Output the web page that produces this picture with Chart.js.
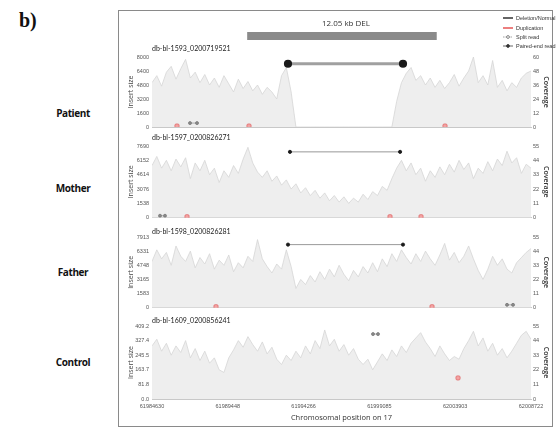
<!DOCTYPE html>
<html>
<head>
<meta charset="utf-8">
<script src="https://cdn.jsdelivr.net/npm/chart.js@4.4.1/dist/chart.umd.min.js"></script>
<style>
  body { margin: 0; width: 560px; height: 429px; background: #fff; position: relative; overflow: hidden; font-family: 'Open Sans', sans-serif; }
  canvas { position: absolute; }
  .frame { position: absolute; left: 118px; top: 10px; width: 433px; height: 415px; border: 1.5px solid #8a8a8a; }
  .tag { position: absolute; left: 42px; width: 62px; text-align: center; font-size: 10px; font-weight: 700; color: #111; letter-spacing: -0.4px; line-height: 14px; }
  .b { position: absolute; left: 19px; top: 9px; font-family: 'Liberation Serif', serif; font-size: 20px; font-weight: 700; color: #111; }
</style>
</head>
<body>
<div class="b">b)</div>
<div class="tag" style="top:106px">Patient</div>
<div class="tag" style="top:181px">Mother</div>
<div class="tag" style="top:265px">Father</div>
<div class="tag" style="top:355px">Control</div>
<div class="frame"></div>
<canvas id="p1" width="430" height="92" style="left:120px;top:42px"></canvas>
<canvas id="p2" width="430" height="93" style="left:120px;top:131px"></canvas>
<canvas id="p3" width="430" height="92" style="left:120px;top:222px"></canvas>
<canvas id="p4" width="430" height="114" style="left:120px;top:311px"></canvas>
<canvas id="head" width="438" height="44" style="left:120px;top:10px"></canvas>
<script>
// chromosome 17 window
const xStart = 61984630, xEnd = 62008722;
const xTicks = [61984630, 61989448, 61994266, 61999085, 62003903, 62008722];
const delStart = 61990680, delEnd = 62002730;
const delLabel = '12.05 kb DEL';

const legendLabels = ['Deletion/Normal', 'Duplication', 'Split read', 'Paired-end read'];

// coverage, 80 evenly spaced samples per sample
const covPatient = [
  38, 44, 35, 47, 52, 41, 50, 58, 42, 47, 38, 45, 36, 42, 34, 44, 37, 30, 41, 33,
  39, 31, 36, 28, 34, 30, 24, 44, 51, 30, 0, 0, 0, 0, 0, 0, 0, 0, 0, 0,
  0, 0, 0, 0, 0, 0, 0, 0, 0, 0, 0, 22, 38, 46, 51, 40, 44, 36, 42, 34,
  40, 33, 38, 45, 35, 42, 48, 60, 38, 44, 36, 57, 34, 40, 31, 38, 34, 42, 46, 48
];
const covMother = [
  40, 47, 38, 44, 36, 45, 39, 46, 30, 42, 36, 44, 33, 38, 27, 36, 31, 40, 34, 45,
  54, 42, 35, 31, 36, 28, 32, 25, 29, 22, 26, 19, 23, 17, 21, 15, 19, 13, 17, 12,
  16, 11, 15, 12, 18, 14, 20, 17, 24, 21, 30, 38, 44, 36, 42, 33, 38, 28, 36, 31,
  39, 33, 41, 35, 44, 37, 42, 30, 38, 34, 43, 36, 45, 40, 51, 42, 46, 34, 41, 38
];
const covFather = [
  36, 45, 38, 43, 33, 48, 40, 36, 44, 31, 39, 34, 42, 30, 37, 33, 41, 28, 35, 31,
  40, 36, 53, 38, 32, 27, 34, 30, 45, 32, 15, 22, 18, 25, 20, 28, 22, 30, 24, 33,
  26, 21, 29, 24, 32, 27, 35, 28, 38, 32, 42, 36, 45, 39, 34, 42, 36, 44, 38, 33,
  41, 50, 37, 43, 35, 40, 48, 38, 29, 22, 30, 40, 33, 38, 30, 27, 35, 39, 43, 46
];
const covControl = [
  40, 45, 36, 42, 33, 40, 35, 44, 31, 38, 29, 36, 27, 31, 22, 20, 31, 37, 44, 39,
  47, 41, 36, 43, 34, 39, 30, 26, 33, 29, 36, 31, 40, 34, 44, 38, 52, 40, 45, 36,
  41, 33, 38, 30, 26, 30, 22, 28, 34, 29, 37, 32, 40, 35, 42, 46, 50, 43, 38, 32,
  40, 34, 29, 32, 30, 38, 44, 51, 40, 46, 36, 42, 33, 38, 31, 36, 42, 48, 51, 45
];

const insTicksPatient = [0, 1600, 3200, 4800, 6400, 8000];
const insTicksMother = [0, 1538, 3076, 4614, 6152, 7690];
const insTicksFather = [0, 1583, 3165, 4748, 6331, 7913];
const insTicksControl = [0, 81.8, 163.7, 245.5, 327.4, 409.2];
const covTicksPatient = [0, 12, 24, 36, 48, 60];
const covTicksOther = [0, 11, 22, 33, 44, 55];

// paired-end reads spanning the deletion
const pePatient = [61993275, 62000585], pePatientY = 7230;
const peMother = [61993400, 62000400], peMotherY = 7060;
const peFather = [61993275, 62000585], peFatherY = 7060;

// split reads
const splitPatient = [61987046, 61987491], splitPatientY = 450;
const splitMother = [61985139, 61985456], splitMotherY = 210;
const splitFather = [62007198, 62007580], splitFatherY = 320;
const splitControl = [61998679, 61998997], splitControlY = 364;

// duplications
const dupPatient = [61986219, 61990796, 62003256], dupPatientY = 110;
const dupMother = [61986855, 61999760, 62001731], dupMotherY = 105;
const dupFather = [61988698, 62002430], dupFatherY = 110;
const dupControl = [62004083], dupControlY = 118;

const tickFont = { family: 'Liberation Sans', size: 5.5 };

function panel(id, o) {
  const n = o.cov.length;
  const covPts = o.cov.map((v, i) => ({ x: xStart + i * (xEnd - xStart) / (n - 1), y: v }));
  const datasets = [
    { data: covPts, yAxisID: 'cov', fill: 'origin', backgroundColor: '#eeeeee',
      borderColor: '#d6d6d6', borderWidth: 0.8, pointRadius: 0, tension: 0, order: 5 }
  ];
  if (o.pe) {
    datasets.push({ data: o.pe.map(x => ({ x, y: o.peY })), yAxisID: 'ins',
      borderColor: o.bold ? '#a0a0a0' : '#8c8c8c', borderWidth: o.bold ? 3 : 0.9,
      pointRadius: o.bold ? 2.6 : 1.6, pointStyle: 'circle',
      pointBackgroundColor: '#1a1a1a', pointBorderColor: '#1a1a1a', order: 1 });
  }
  datasets.push({ data: o.split.map(x => ({ x, y: o.splitY })), yAxisID: 'ins',
    borderColor: '#9a9a9a', borderWidth: 0.8, pointRadius: 1.5,
    pointBackgroundColor: '#8a8a8a', pointBorderColor: '#777', order: 2 });
  datasets.push({ data: o.dup.map(x => ({ x, y: o.dupY })), yAxisID: 'ins', showLine: false,
    pointStyle: 'rectRounded', pointRadius: 2.4, pointBackgroundColor: '#f3a3a3',
    pointBorderColor: '#e06a6a', pointBorderWidth: 0.8, order: 1 });

  new Chart(document.getElementById(id), {
    type: 'line',
    data: { datasets },
    options: {
      responsive: false,
      animation: false,
      layout: { padding: { top: 15, bottom: o.showX ? 2 : 4 } },
      plugins: { legend: { display: false }, tooltip: { enabled: false } },
      scales: {
        x: {
          type: 'linear', min: xStart, max: xEnd,
          afterBuildTicks: s => { s.ticks = xTicks.map(v => ({ value: v })); },
          afterFit: s => { s.height = o.showX ? 24 : 0; },
          ticks: { display: !!o.showX, font: tickFont, color: '#555', padding: 4,
                   maxRotation: 0, autoSkip: false, callback: v => String(v) },
          grid: { display: false, drawTicks: false },
          border: { display: true, color: '#c8c8c8', width: 1 },
          title: { display: !!o.showX, text: 'Chromosomal position on 17',
                   font: { family: 'Open Sans', size: 7.5 }, color: '#333', padding: { top: 0, bottom: 1 } }
        },
        ins: {
          position: 'left', min: 0, max: o.insTicks[o.insTicks.length - 1],
          afterBuildTicks: s => { s.ticks = o.insTicks.map(v => ({ value: v })); },
          afterFit: s => { s.width = 32; },
          ticks: { font: tickFont, color: '#555', padding: 3,
                   callback: v => o.decimals ? v.toFixed(1) : String(v) },
          grid: { display: false, drawTicks: false },
          border: { display: false },
          title: { display: true, text: 'Insert size', font: { family: 'Open Sans', size: 7 },
                   color: '#444', padding: { top: 7, bottom: 0 } }
        },
        cov: {
          position: 'right', min: 0, max: o.covTicks[o.covTicks.length - 1],
          afterBuildTicks: s => { s.ticks = o.covTicks.map(v => ({ value: v })); },
          afterFit: s => { s.width = 19; },
          ticks: { font: tickFont, color: '#555', padding: 2 },
          grid: { display: false, drawTicks: false },
          border: { display: false },
          title: { display: true, text: 'Coverage', font: { family: 'Open Sans', size: 7, weight: '600' },
                   color: '#333', padding: { top: 0, bottom: 0 } }
        }
      }
    },
    plugins: [{
      id: 'sampleTitle',
      afterDraw(chart) {
        const c = chart.ctx, a = chart.chartArea;
        c.save();
        c.font = '7px Lato';
        c.fillStyle = '#222';
        c.textBaseline = 'middle';
        c.fillText(o.title, a.left, a.top - o.gap);
        c.restore();
      }
    }]
  });
}

panel('p1', { cov: covPatient, insTicks: insTicksPatient, covTicks: covTicksPatient,
  pe: pePatient, peY: pePatientY, bold: true, split: splitPatient, splitY: splitPatientY,
  dup: dupPatient, dupY: dupPatientY, title: 'db-bl-1593_0200719521', gap: 8 });
panel('p2', { cov: covMother, insTicks: insTicksMother, covTicks: covTicksOther,
  pe: peMother, peY: peMotherY, split: splitMother, splitY: splitMotherY,
  dup: dupMother, dupY: dupMotherY, title: 'db-bl-1597_0200826271', gap: 8 });
panel('p3', { cov: covFather, insTicks: insTicksFather, covTicks: covTicksOther,
  pe: peFather, peY: peFatherY, split: splitFather, splitY: splitFatherY,
  dup: dupFather, dupY: dupFatherY, title: 'db-bl-1598_0200826281', gap: 5 });
panel('p4', { cov: covControl, insTicks: insTicksControl, covTicks: covTicksOther, decimals: true,
  split: splitControl, splitY: splitControlY, dup: dupControl, dupY: dupControlY,
  title: 'db-bl-1609_0200856241', gap: 5, showX: true });

// header: deletion bar and legend
new Chart(document.getElementById('head'), {
  type: 'line',
  data: {
    datasets: [{
      data: [{ x: delStart, y: 0.55 }, { x: delEnd, y: 0.55 }],
      borderColor: '#8a8a8a', borderWidth: 8, borderCapStyle: 'butt', pointRadius: 0
    }]
  },
  options: {
    responsive: false,
    animation: false,
    layout: { padding: { left: 32, right: 27, top: 18, bottom: 8 } },
    plugins: { legend: { display: false }, tooltip: { enabled: false } },
    scales: {
      x: { type: 'linear', min: xStart, max: xEnd, display: false },
      y: { min: 0, max: 1, display: false }
    }
  },
  plugins: [{
    id: 'headText',
    afterDraw(chart) {
      const c = chart.ctx, xs = chart.scales.x;
      c.save();
      c.font = '8px "Open Sans"';
      c.fillStyle = '#333';
      c.textAlign = 'center';
      c.textBaseline = 'middle';
      c.fillText(delLabel, (xs.getPixelForValue(delStart) + xs.getPixelForValue(delEnd)) / 2 + 4, 14);
      // legend
      const ys = [8, 18, 27, 36];
      const x0 = 383, x1 = 393;
      c.textAlign = 'left';
      c.font = '5.5px "Liberation Sans"';
      legendLabels.forEach((t, i) => {
        const y = ys[i];
        c.beginPath();
        c.lineWidth = i < 2 ? 1.3 : 0.9;
        c.strokeStyle = i === 0 ? '#111' : i === 1 ? '#e23a3a' : i === 2 ? '#999' : '#555';
        c.setLineDash(i === 2 ? [1.5, 1] : []);
        c.moveTo(x0, y); c.lineTo(x1, y); c.stroke();
        c.setLineDash([]);
        if (i >= 2) {
          c.beginPath();
          c.arc((x0 + x1) / 2, y, 1.4, 0, Math.PI * 2);
          c.fillStyle = i === 2 ? '#fff' : '#333';
          c.fill();
          c.strokeStyle = i === 2 ? '#777' : '#333';
          c.stroke();
        }
        c.fillStyle = '#333';
        c.fillText(t, x1 + 3, y);
      });
      c.restore();
    }
  }]
});
</script>
</body>
</html>
